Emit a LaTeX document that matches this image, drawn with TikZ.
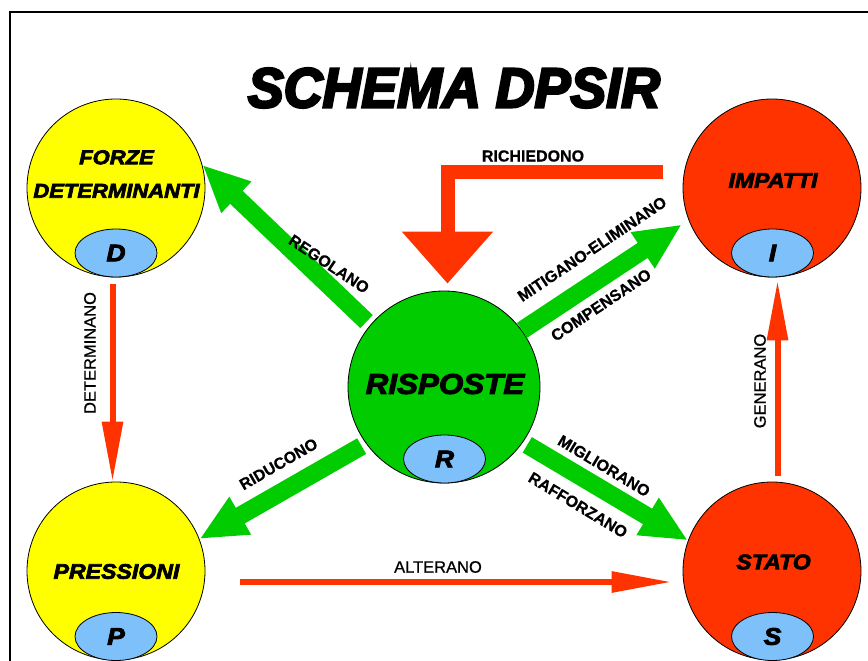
\documentclass[tikz,border=0pt]{standalone}
\usepackage{fontspec}
\setmainfont{Liberation Sans}
\newfontfamily\ttlfont[FakeBold=4.5,FakeStretch=0.96]{Liberation Sans Bold Italic}
\newfontfamily\blkfont[FakeBold=3.5,FakeStretch=1.1]{Liberation Sans Bold Italic}
\newfontfamily\lblfont[FakeBold=0.6]{Liberation Sans Bold}
\newfontfamily\lblrfont[FakeBold=0.8]{Liberation Sans}
\usetikzlibrary{arrows.meta,shapes.geometric}
\definecolor{cyel}{RGB}{255,255,0}
\definecolor{cred}{RGB}{255,51,0}
\definecolor{cgrn}{RGB}{0,204,0}
\definecolor{cblu}{RGB}{125,192,250}
\begin{document}
\begin{tikzpicture}[x=1pt,y=-1pt,
  bigc/.style={circle,draw=black,line width=0.8pt,minimum size=178pt,inner sep=0pt},
  smalle/.style={ellipse,draw=black,line width=0.8pt,fill=cblu,minimum width=82pt,minimum height=48pt,inner sep=0pt,font={\blkfont\fontsize{24}{24}\selectfont}},
  capt/.style={font={\blkfont\fontsize{21}{33.5}\selectfont},align=center,inner sep=0pt},
  lbl/.style={font={\lblfont\fontsize{16}{16}\selectfont},inner sep=0pt},
  lblr/.style={font={\lblrfont\fontsize{16.5}{16.5}\selectfont},inner sep=0pt},
  garrow/.style={draw=cgrn,line width=18pt,-{Triangle[width=40pt,length=47pt]}},
  rbig/.style={draw=cred,line width=14pt,line join=miter,-{Triangle[width=88pt,length=52pt]}},
  rthin/.style={draw=cred,line width=6pt,-{Triangle[width=20pt,length=60pt]}}
]
\useasboundingbox (0,0) rectangle (868,661);
\fill[white] (0,0) rectangle (868,661);
% frame
\draw[line width=2pt] (10,662) -- (10,12.5) -- (869,12.5);
% title
\node[font={\ttlfont\fontsize{56}{56}\selectfont},inner sep=0pt] (title) at (454,88) {SCHEMA DPSIR};
% main circles
\node[bigc,fill=cyel] (D) at (116,188) {};
\node[bigc,fill=cred] (I) at (772,188) {};
\node[bigc,fill=cyel] (P) at (116,571) {};
\node[bigc,fill=cred] (S) at (772,571) {};
\node[bigc,fill=cgrn,minimum size=192pt] (R) at (444,387) {};
% small ellipses
\node[smalle] (Dl) at (116,253) {D};
\node[smalle] (Il) at (772.5,253) {I};
\node[smalle] (Pl) at (116,636.5) {P};
\node[smalle] (Sl) at (772.5,636.5) {S};
\node[smalle] (Rl) at (444.5,459) {R};
% captions
\node[capt,font={\blkfont\fontsize{20}{33.5}\selectfont}] (Dt) at (116.5,174) {FORZE\\DETERMINANTI};
\node[capt] (It) at (773,180.5) {IMPATTI};
\node[capt] (Pt) at (116.5,571.5) {PRESSIONI};
\node[capt] (St) at (773.5,562) {STATO};
\node[capt,font={\blkfont\fontsize{28.5}{28.5}\selectfont}] (Rt) at (445,384) {RISPOSTE};
% green arrows
\draw[garrow,shorten <=5pt] (R.140) -- (D.15);
\draw[garrow,shorten >=8pt] (R.36) -- (I.201);
\draw[garrow,shorten <=5pt] (R.216) -- (P.21);
\draw[garrow,shorten <=5pt] (R.325) -- (S.160);
% red arrows
\coordinate (rs) at (663,172);
\draw[rbig] (rs) -| ([xshift=3.5pt,yshift=7pt]R.north);
\draw[rthin,shorten <=7pt] ([xshift=-3.5pt]D.south) -- ([xshift=-3.5pt]P.north);
\draw[rthin,shorten <=6pt,shorten >=3pt] ([xshift=5.5pt]S.north) -- ([xshift=5.5pt]I.south);
\draw[rthin] ([xshift=35pt,yshift=-11pt]P.east) -- ([xshift=-11pt,yshift=-11pt]S.west);
% labels
\node[lbl] (lrich) at (533,156) {RICHIEDONO};
\node[lbl,rotate=-33.6] (lreg) at (329,264) {REGOLANO};
\node[lbl,rotate=33.8] (lmit) at (592,249) {MITIGANO-ELIMINANO};
\node[lbl,rotate=33.8] (lcomp) at (601,305) {COMPENSANO};
\node[lbl,rotate=30] (lrid) at (278.5,464) {RIDUCONO};
\node[lbl,rotate=-31] (lmig) at (604,466) {MIGLIORANO};
\node[lbl,rotate=-31] (lraf) at (578,505) {RAFFORZANO};
\node[lblr] (lalt) at (438,567) {ALTERANO};
\node[lblr,rotate=90] (ldet) at (90,353) {DETERMINANO};
\node[lblr,rotate=90] (lgen) at (760,381) {GENERANO};
\end{tikzpicture}
\end{document}
